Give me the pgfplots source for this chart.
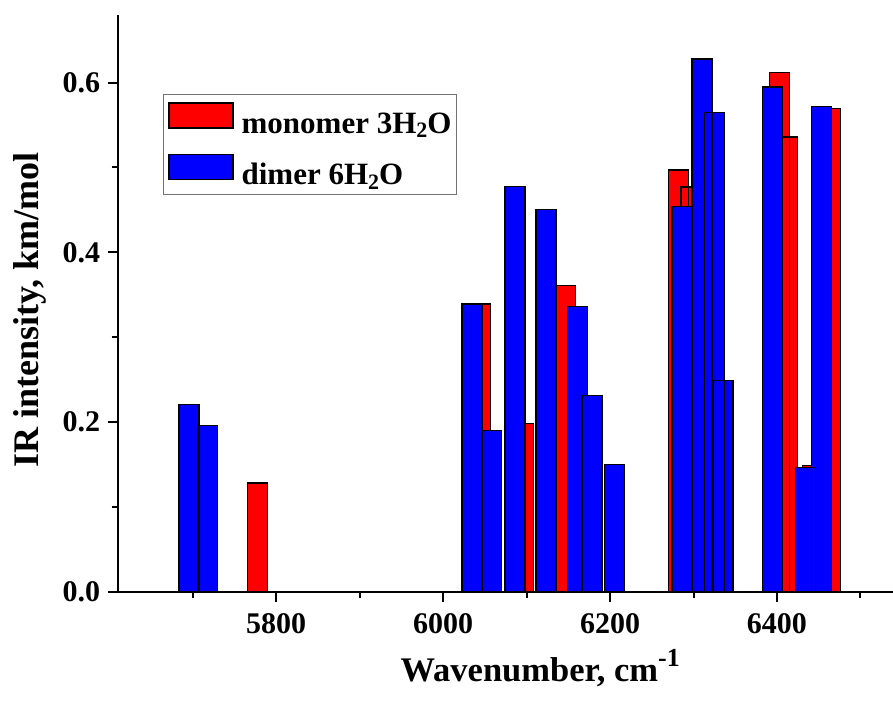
\documentclass[border=0pt]{standalone}
\usepackage{fontspec}
\setmainfont{Liberation Serif}
\usepackage{pgfplots}
\usepackage{pgfplotstable}
\pgfplotsset{compat=1.18}

% IR intensities of the stick spectra (wavenumber in cm^-1, intensity in km/mol)
\pgfplotstableread{
x y
5777.6 0.128
6045.0 0.339
6096.0 0.198
6147.0 0.361
6282.0 0.497
6297.0 0.477
6403.0 0.612
6413.0 0.536
6443.0 0.149
6464.0 0.570
}\monomer

\pgfplotstableread{
x y
5695.6 0.221
5717.7 0.196
6034.7 0.339
6058.3 0.190
6086.2 0.478
6123.2 0.450
6161.2 0.336
6178.3 0.231
6205.2 0.150
6286.2 0.454
6310.2 0.628
6325.3 0.565
6335.3 0.249
6395.0 0.595
6434.0 0.146
6453.2 0.572
}\dimer

\newcommand{\bigfont}{\fontsize{30}{30}\selectfont\bfseries}
\newcommand{\legfont}{\fontsize{31}{31}\selectfont\bfseries}
\newcommand{\sub}[1]{\raisebox{-0.32ex}{\fontsize{22}{22}\selectfont #1}}

\begin{document}
\begin{tikzpicture}
\path[use as bounding box] (-117.6pt,-114.4pt) rectangle (775.4pt,591.6pt);
\begin{axis}[
  at={(0,0)}, anchor=south west,
  scale only axis, width=775.4pt, height=576.8pt,
  xmin=5610, xmax=6539, ymin=0, ymax=0.68,
  axis lines=left,
  axis line style={-, line width=2pt},
  tick align=outside,
  major tick length=10pt, minor tick length=6pt,
  every tick/.style={black, line width=2pt},
  xtick={5800,6000,6200,6400},
  minor xtick={5700,5900,6100,6300,6500},
  ytick={0,0.2,0.4,0.6},
  minor ytick={0.1,0.3,0.5},
  /pgf/number format/assume math mode=true,
  tick label style={font=\bigfont},
  xticklabel style={yshift=-8pt, /pgf/number format/1000 sep={}},
  yticklabel style={xshift=-4pt, /pgf/number format/.cd, fixed, fixed zerofill, precision=1},
  xlabel={Wavenumber, cm\raisebox{0.9ex}{\fontsize{26}{26}\selectfont -1}},
  ylabel={IR intensity, km/mol},
  xlabel style={font=\fontsize{34.5}{34.5}\selectfont\bfseries,
    at={(axis description cs:0.545,-0.1325)}, anchor=center},
  ylabel style={font=\fontsize{36}{36}\selectfont\bfseries,
    at={(axis description cs:-0.113,0.488)}, anchor=center},
  ybar, bar width=24,
  legend style={at={(axis description cs:0.0586,0.8627)}, anchor=north west,
    draw=black!55, line width=0.8pt, font=\legfont,
    inner xsep=5pt, inner ysep=8pt, row sep=19pt,
    nodes={inner sep=0pt}, cells={anchor=west},
    /tikz/every odd column/.append style={column sep=8pt}},
]
\addplot[bar shift=0pt, fill=red, draw=black, line width=1.2pt,
  legend image code/.code={\draw[fill=red, draw=black, line width=1.2pt] (0pt,-4.5pt) rectangle (64pt,20.5pt);}]
  table[x=x, y=y] {\monomer};
\addlegendentry{monomer 3H\sub{2}O}
\addplot[bar shift=0pt, fill=blue, draw=black, line width=1.2pt,
  legend image code/.code={\draw[fill=blue, draw=black, line width=1.2pt] (0pt,-4.5pt) rectangle (64pt,20.5pt);}]
  table[x=x, y=y] {\dimer};
\addlegendentry{dimer 6H\sub{2}O\rule[-12pt]{0pt}{12pt}}
\end{axis}
\end{tikzpicture}
\end{document}
